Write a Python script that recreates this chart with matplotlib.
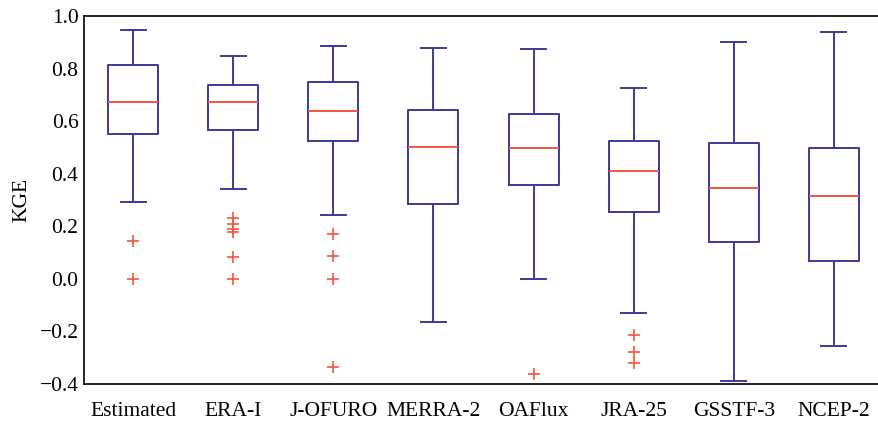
import matplotlib
matplotlib.use("Agg")
import matplotlib.pyplot as plt

plt.rcParams['font.family'] = ['Liberation Serif', 'DejaVu Serif']

# datasets on the x axis
names = ["Estimated", "ERA-I", "J-OFURO", "MERRA-2", "OAFlux", "JRA-25", "GSSTF-3", "NCEP-2"]

# box stats (KGE)
whislo = [0.291, 0.343, 0.244, -0.165, -0.002, -0.131, -0.388, -0.254]
q1 = [0.552, 0.568, 0.523, 0.285, 0.356, 0.253, 0.140, 0.068]
med = [0.674, 0.673, 0.639, 0.503, 0.499, 0.412, 0.345, 0.317]
q3 = [0.812, 0.738, 0.748, 0.642, 0.626, 0.523, 0.517, 0.499]
whishi = [0.947, 0.848, 0.886, 0.877, 0.874, 0.727, 0.900, 0.939]
fliers = [
    [0.145, 0.0],
    [0.233, 0.209, 0.190, 0.180, 0.082, 0.0],
    [0.171, 0.087, 0.0, -0.334],
    [],
    [-0.362],
    [-0.213, -0.277, -0.319],
    [],
    [],
]

box_col = "#3b3b9a"
red = "#f4553d"

stats = []
for i, n in enumerate(names):
    stats.append(dict(label=n, whislo=whislo[i], q1=q1[i], med=med[i],
                      q3=q3[i], whishi=whishi[i], fliers=fliers[i]))

fig = plt.figure(figsize=(8.79, 4.26), dpi=100)
ax = fig.add_axes([0.0956, 0.0986, 0.9044, 0.8638])

ax.bxp(stats, widths=0.5, showfliers=True,
       boxprops=dict(color=box_col, linewidth=1.4),
       whiskerprops=dict(color=box_col, linewidth=1.4, linestyle='-'),
       capprops=dict(color=box_col, linewidth=1.4),
       medianprops=dict(color=red, linewidth=1.4),
       flierprops=dict(marker='+', markeredgecolor=red, markersize=9, markeredgewidth=1.2))

ax.set_xlim(0.51, 8.45)
ax.set_ylim(-0.4, 1.0)
ax.set_yticks([-0.4, -0.2, 0.0, 0.2, 0.4, 0.6, 0.8, 1.0])
ax.set_yticklabels(["\u22120.4", "\u22120.2", "0.0", "0.2", "0.4", "0.6", "0.8", "1.0"])
ax.tick_params(length=0, labelsize=15.5)
ax.tick_params(axis='x', pad=13)
ax.tick_params(axis='y', pad=4)
ax.set_ylabel("KGE", fontsize=15.5, labelpad=6)
ax.spines['right'].set_visible(False)
for s in ['left', 'top', 'bottom']:
    ax.spines[s].set_linewidth(1.2)

fig.savefig("out.png", dpi=100)
